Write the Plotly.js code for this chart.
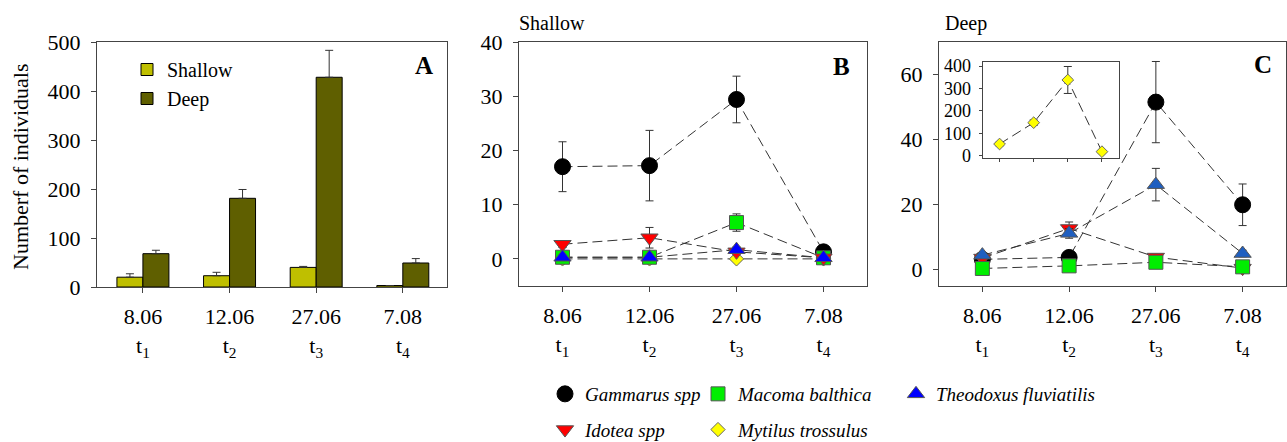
<!DOCTYPE html>
<html><head><meta charset="utf-8">
<script src="https://cdn.plot.ly/plotly-3.0.1.min.js"></script>
<style>html,body{margin:0;padding:0;background:#fff;}#chart{width:1287px;height:442px;}</style>
</head><body><div id="chart"></div>
<script>
// ---- data ----
const dates = ['8.06', '12.06', '27.06', '7.08'];
const times = ['t<sub>1</sub>', 't<sub>2</sub>', 't<sub>3</sub>', 't<sub>4</sub>'];
const categories = dates.map((d, i) => d + '<br>' + times[i]);

// Panel A: total number of individuals
const shallowTotal = [20, 23, 40, 3];
const shallowTotalErr = [7, 7, 2, 0];
const deepTotal = [68, 181, 428, 49];
const deepTotalErr = [7, 18, 55, 9];

// Panel B: shallow, per species
const gammarusShallow = [17.0, 17.2, 29.4, 1.3];
const gammarusShallowErr = [4.6, 6.5, 4.3, 0.3];
const macomaShallow = [0.3, 0.3, 6.7, 0.2];
const macomaShallowErr = [0.2, 0.2, 1.6, 0.1];
const theodoxusShallow = [0.3, 0.3, 1.7, 0.2];
const theodoxusShallowErr = [0.2, 0.2, 0.5, 0.1];
const idoteaShallow = [2.7, 3.9, 1.3, 0.2];
const idoteaShallowErr = [0.6, 1.9, 0.4, 0.1];
const mytilusShallow = [0, 0, 0, 0];
const mytilusShallowErr = [0, 0, 0, 0];

// Panel C: deep, per species
const gammarusDeep = [3.1, 3.7, 51.5, 19.9];
const gammarusDeepErr = [0.5, 0.6, 12.5, 6.4];
const theodoxusDeep = [4.4, 11.1, 26.1, 4.9];
const theodoxusDeepErr = [0.8, 1.5, 5.0, 1.0];
const idoteaDeep = [3.5, 12.6, 3.8, 0.4];
const idoteaDeepErr = [0.5, 2.0, 0.6, 0.2];
const macomaDeep = [0.3, 1.1, 2.2, 0.8];
const macomaDeepErr = [0.2, 0.3, 0.5, 0.2];
// inset: Mytilus deep
const mytilusDeep = [53, 148, 338, 19];
const mytilusDeepErr = [8, 12, 60, 5];

// ---- styles ----
const FONT = 'Liberation Serif, Times New Roman, serif';
const W = 1287, H = 442;
const px = v => v / W;
const py = v => 1 - v / H;
const dashLine = {color: '#333', width: 1, dash: '10px,5px'};
const errStyle = arr => ({type: 'data', array: arr, visible: true, color: '#333', thickness: 1, width: 4});

const species = {
  gammarus: {name: 'Gammarus spp', marker: {symbol: 'circle', size: 16, color: '#000', line: {color: '#000', width: 1}}, legend: 'legend2', rank: 1},
  idotea: {name: 'Idotea spp', marker: {symbol: 'triangle-down', size: 15, color: '#ff0000', line: {color: '#555', width: 1}}, legend: 'legend2', rank: 2},
  macoma: {name: 'Macoma balthica', marker: {symbol: 'square', size: 14, color: '#00ee00', line: {color: '#555', width: 1}}, legend: 'legend3', rank: 1},
  mytilus: {name: 'Mytilus trossulus', marker: {symbol: 'diamond', size: 11, color: '#ffff00', line: {color: '#666', width: 1}}, legend: 'legend3', rank: 2},
  theodoxus: {name: 'Theodoxus fluviatilis', marker: {symbol: 'triangle-up', size: 15, color: '#0000ff', line: {color: '#555', width: 1}}, legend: 'legend4', rank: 1}
};

function spLine(key, y, xa, ya) {
  const s = species[key];
  return {type: 'scatter', mode: 'lines', x: categories, y: y, xaxis: xa, yaxis: ya,
    name: s.name, legendgroup: key, legend: s.legend, showlegend: false, line: dashLine, cliponaxis: false};
}
function spMark(key, y, err, xa, ya, show, markerOverride) {
  const s = species[key];
  return {
    type: 'scatter', mode: 'markers', x: categories, y: y,
    xaxis: xa, yaxis: ya, name: s.name, legendgroup: key,
    legend: s.legend, legendrank: s.rank, showlegend: show,
    marker: Object.assign({}, s.marker, markerOverride || {}),
    error_y: errStyle(err), cliponaxis: false
  };
}

const data = [
  // Panel A
  {type: 'bar', x: categories, y: shallowTotal, name: 'Shallow', xaxis: 'x', yaxis: 'y', legend: 'legend',
   marker: {color: '#bfbf00', line: {color: '#000', width: 1}},
   error_y: {type: 'data', symmetric: false, array: shallowTotalErr, arrayminus: [0, 0, 0, 0], color: '#333', thickness: 1, width: 4}},
  {type: 'bar', x: categories, y: deepTotal, name: 'Deep', xaxis: 'x', yaxis: 'y', legend: 'legend',
   marker: {color: '#5f5f00', line: {color: '#000', width: 1}},
   error_y: {type: 'data', symmetric: false, array: deepTotalErr, arrayminus: [0, 0, 0, 0], color: '#333', thickness: 1, width: 4}},
  // Panel B lines
  spLine('gammarus', gammarusShallow, 'x2', 'y2'),
  spLine('mytilus', mytilusShallow, 'x2', 'y2'),
  spLine('macoma', macomaShallow, 'x2', 'y2'),
  spLine('idotea', idoteaShallow, 'x2', 'y2'),
  spLine('theodoxus', theodoxusShallow, 'x2', 'y2'),
  // Panel B markers (draw order: black, yellow, green, red, blue)
  spMark('gammarus', gammarusShallow, gammarusShallowErr, 'x2', 'y2', true),
  spMark('mytilus', mytilusShallow, mytilusShallowErr, 'x2', 'y2', true),
  spMark('macoma', macomaShallow, macomaShallowErr, 'x2', 'y2', true),
  spMark('idotea', idoteaShallow, idoteaShallowErr, 'x2', 'y2', true),
  spMark('theodoxus', theodoxusShallow, theodoxusShallowErr, 'x2', 'y2', true),
  // Panel C lines
  spLine('gammarus', gammarusDeep, 'x3', 'y3'),
  spLine('idotea', idoteaDeep, 'x3', 'y3'),
  spLine('theodoxus', theodoxusDeep, 'x3', 'y3'),
  spLine('macoma', macomaDeep, 'x3', 'y3'),
  // Panel C markers (draw order: black, red, blue, green)
  spMark('gammarus', gammarusDeep, gammarusDeepErr, 'x3', 'y3', false),
  spMark('idotea', idoteaDeep, idoteaDeepErr, 'x3', 'y3', false),
  spMark('theodoxus', theodoxusDeep, theodoxusDeepErr, 'x3', 'y3', false, {color: '#1f5fc0'}),
  spMark('macoma', macomaDeep, macomaDeepErr, 'x3', 'y3', false),
  // Inset
  spLine('mytilus', mytilusDeep, 'x4', 'y4'),
  spMark('mytilus', mytilusDeep, mytilusDeepErr, 'x4', 'y4', false, {size: 9})
];

const tickFont = {family: FONT, size: 22, color: '#000'};
const baseX = {
  type: 'category', showline: true, mirror: true, linecolor: '#444', linewidth: 1,
  ticks: 'outside', ticklen: 5, tickcolor: '#444', tickfont: tickFont,
  showgrid: false, zeroline: false, fixedrange: true, ticklabelstandoff: 5
};
const baseY = {
  showline: true, mirror: true, linecolor: '#444', linewidth: 1,
  ticks: 'outside', ticklen: 5, tickcolor: '#444', tickfont: tickFont,
  showgrid: false, zeroline: false, fixedrange: true, ticklabelstandoff: 6
};
const legendFont = {family: FONT, size: 19, color: '#000', style: 'italic'};

const layout = {
  width: W, height: H, margin: {l: 0, r: 0, t: 0, b: 0, autoexpand: false},
  paper_bgcolor: '#fff', plot_bgcolor: 'rgba(0,0,0,0)',
  font: {family: FONT, color: '#000'},
  barmode: 'group', bargap: 0.4, bargroupgap: 0,
  xaxis: Object.assign({}, baseX, {domain: [px(97), px(447)], range: [-0.53, 3.51], anchor: 'y'}),
  yaxis: Object.assign({}, baseY, {domain: [py(287), py(42)], range: [0, 500], tickvals: [0, 100, 200, 300, 400, 500], anchor: 'x'}),
  xaxis2: Object.assign({}, baseX, {domain: [px(519), px(867)], range: [-0.5, 3.5], anchor: 'y2'}),
  yaxis2: Object.assign({}, baseY, {domain: [py(286), py(42)], range: [-5, 40], tickvals: [0, 10, 20, 30, 40], anchor: 'x2'}),
  xaxis3: Object.assign({}, baseX, {domain: [px(939), px(1286)], range: [-0.5, 3.5], anchor: 'y3'}),
  yaxis3: Object.assign({}, baseY, {domain: [py(286), py(42)], range: [-5.1, 70], tickvals: [0, 20, 40, 60], anchor: 'x3'}),
  xaxis4: Object.assign({}, baseX, {domain: [px(982.5), px(1119)], range: [-0.5, 3.5], anchor: 'y4', showticklabels: false, ticklen: 3}),
  yaxis4: Object.assign({}, baseY, {domain: [py(157.5), py(62)], range: [-7, 418], tickvals: [0, 100, 200, 300, 400], anchor: 'x4', ticklen: 3, ticklabelstandoff: 4, tickfont: {family: FONT, size: 18, color: '#000'}}),
  showlegend: true,
  legend: {x: px(127), y: py(50), xanchor: 'left', yanchor: 'top', bgcolor: 'rgba(0,0,0,0)', font: {family: FONT, size: 20, color: '#000'}, traceorder: 'normal'},
  legend2: {x: px(545), y: py(375), xanchor: 'left', yanchor: 'top', bgcolor: 'rgba(0,0,0,0)', font: legendFont, tracegroupgap: 8},
  legend3: {x: px(698), y: py(375), xanchor: 'left', yanchor: 'top', bgcolor: 'rgba(0,0,0,0)', font: legendFont, tracegroupgap: 8},
  legend4: {x: px(896), y: py(375), xanchor: 'left', yanchor: 'top', bgcolor: 'rgba(0,0,0,0)', font: legendFont, tracegroupgap: 8},
  annotations: [
    {xref: 'paper', yref: 'paper', x: px(20), y: py(167), text: 'Numberf of individuals', textangle: -90, showarrow: false, font: {family: FONT, size: 22, color: '#000'}, xanchor: 'center', yanchor: 'middle'},
    {xref: 'paper', yref: 'paper', x: px(517), y: py(23), text: 'Shallow', showarrow: false, font: {family: FONT, size: 20, color: '#000'}, xanchor: 'left', yanchor: 'middle'},
    {xref: 'paper', yref: 'paper', x: px(943), y: py(23), text: 'Deep', showarrow: false, font: {family: FONT, size: 20, color: '#000'}, xanchor: 'left', yanchor: 'middle'},
    {xref: 'paper', yref: 'paper', x: px(424), y: py(65), text: '<b>A</b>', showarrow: false, font: {family: FONT, size: 25, color: '#000'}, xanchor: 'center', yanchor: 'middle'},
    {xref: 'paper', yref: 'paper', x: px(841), y: py(66), text: '<b>B</b>', showarrow: false, font: {family: FONT, size: 25, color: '#000'}, xanchor: 'center', yanchor: 'middle'},
    {xref: 'paper', yref: 'paper', x: px(1263), y: py(64), text: '<b>C</b>', showarrow: false, font: {family: FONT, size: 25, color: '#000'}, xanchor: 'center', yanchor: 'middle'}
  ]
};

Plotly.newPlot('chart', data, layout, {displayModeBar: false, staticPlot: true});
</script>
</body></html>
